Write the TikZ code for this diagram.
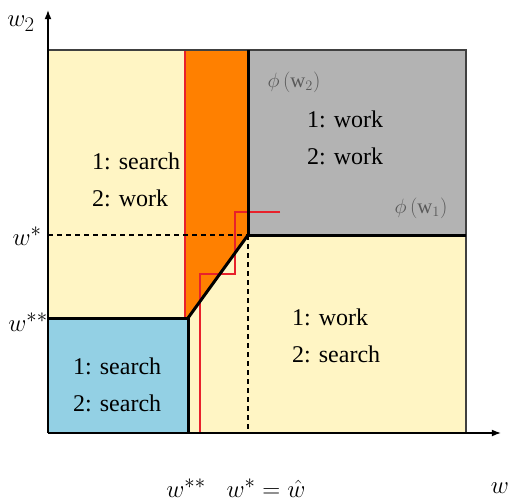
\documentclass[tikz,border=0pt]{standalone}
\usepackage{fontspec}
\setmainfont{Liberation Serif}
\usepackage{tikz}
\usetikzlibrary{arrows.meta}
\definecolor{regyellow}{HTML}{FFF5C4}
\definecolor{regblue}{HTML}{93D0E4}
\definecolor{reggray}{HTML}{B3B3B3}
\definecolor{regorange}{HTML}{FF8000}
\definecolor{pathred}{HTML}{E8212B}
\tikzset{
  axis/.style={-{Latex[length=3.2mm,width=2.4mm]},line width=1.2pt},
  edge/.style={line width=1.4pt,draw=black!75},
  bound/.style={line width=3pt},
  guide/.style={line width=1.2pt,dash pattern=on 5pt off 4pt},
  redline/.style={line width=1.2pt,draw=pathred},
  regtext/.style={font=\fontsize{24}{37}\selectfont,align=left,inner sep=0pt,anchor=west},
  axlabel/.style={font=\fontsize{24.88}{30}\selectfont,inner sep=0pt},
  philabel/.style={font=\fontsize{20.74}{26}\selectfont,text=black!65,inner sep=0pt}
}

\begin{document}
\begin{tikzpicture}[x=1pt,y=-1pt]
  \useasboundingbox (0,0) rectangle (510,503);
  \coordinate (O) at (48,433);
  \coordinate (ytop) at (48,10);
  \coordinate (xend) at (501,433);
  \coordinate (wss) at (188,318);
  \coordinate (ws) at (248,235);
  % regions
  \fill[regyellow] (48,50) rectangle (466,433);
  \fill[regblue] (48,318) rectangle (188,433);
  \fill[reggray] (248,50) rectangle (466,235);
  \fill[regorange] (185,50) -- (248,50) -- (ws) -- (wss) -- (185,318) -- cycle;
  % red path
  \draw[redline] (185,50) -- (185,318);
  \draw[redline] (280,212) -- (235,212) -- (235,274) -- (200,274) -- (200,433);
  % guides and borders
  \draw[guide] (48,235) -- (ws);
  \draw[guide] (ws) -- (248,433);
  \draw[edge] (48,50) -- (466,50) -- (466,433);
  \draw[bound] (48,318) -- (wss) -- (188,433);
  \draw[bound] (248,50) -- (ws) -- (466,235);
  \draw[bound] (ws) -- (wss);
  % axes
  \draw[axis] (O) -- (ytop);
  \draw[axis] (O) -- (xend);
  % labels
  \node[axlabel] (lw2) at (21,24) {$w_2$};
  \node[axlabel] (lws) at (27,236) {$w^*$};
  \node[axlabel] (lwss) at (28,322) {$w^{**}$};
  \node[axlabel] (bwss) at (186,488) {$w^{**}$};
  \node[axlabel] (bws) at (266,488) {$w^* = \hat{w}$};
  \node[axlabel] (lw) at (500,488) {$w$};
  \node[regtext] (tl) at (92,180) {1: search\\2: work};
  \node[regtext] (gr) at (307,138) {1: work\\2: work};
  \node[regtext] (bl) at (73,385) {1: search\\2: search};
  \node[regtext] (br) at (292,336) {1: work\\2: search};
  \node[philabel] (phi2) at (294,82) {$\phi\,(\mathrm{w}_2)$};
  \node[philabel] (phi1) at (421,208) {$\phi\,(\mathrm{w}_1)$};
\end{tikzpicture}
\end{document}
